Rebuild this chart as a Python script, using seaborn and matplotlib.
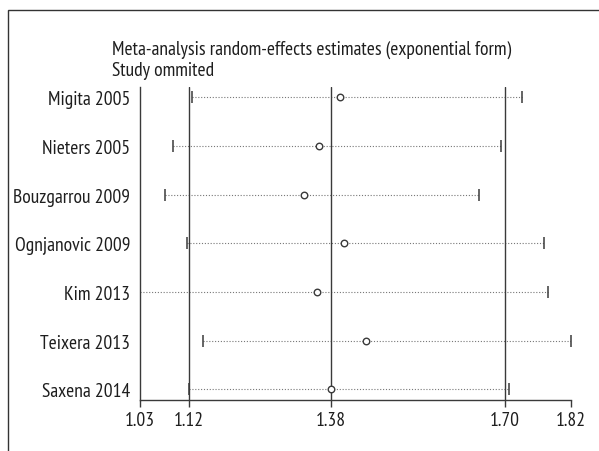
import matplotlib
matplotlib.use("Agg")
import matplotlib.pyplot as plt
import seaborn as sns
import pandas as pd
from matplotlib.patches import Rectangle

# data
studies = ["Migita 2005", "Nieters 2005", "Bouzgarrou 2009", "Ognjanovic 2009",
           "Kim 2013", "Teixera 2013", "Saxena 2014"]
estimate = [1.396, 1.358, 1.331, 1.405, 1.355, 1.444, 1.381]
lower = [1.125, 1.091, 1.075, 1.116, 1.030, 1.146, 1.120]
upper = [1.730, 1.692, 1.651, 1.771, 1.779, 1.820, 1.706]
ref_lines = [1.12, 1.38, 1.70]
xticks = [1.03, 1.12, 1.38, 1.70, 1.82]
xtick_labels = ["1.03", "1.12", "1.38", "1.70", "1.82"]

df = pd.DataFrame({"study": studies, "est": estimate, "lo": lower, "hi": upper})
df["row"] = range(len(df))

sns.set_style("white")
plt.rcParams["font.family"] = ["PT Sans Narrow", "Open Sans Condensed", "DejaVu Sans"]

txt = "#1e1e1e"
line_c = "#3a3a3a"
fs = 14

fig = plt.figure(figsize=(5.99, 4.52), dpi=100)
ax = fig.add_axes([140 / 599, 1 - 401 / 452, (570.7 - 140) / 599, (401 - 88) / 452])

# confidence intervals (dotted) with end caps
ax.hlines(df["row"], df["lo"], df["hi"], colors="#777777", linewidth=0.8,
          linestyles=(0, (1, 1.6)), zorder=1)
ax.plot(df["lo"], df["row"], ls="none", marker="|", ms=8, mew=1.1, color=line_c, zorder=2)
ax.plot(df["hi"], df["row"], ls="none", marker="|", ms=8, mew=1.1, color=line_c, zorder=2)

# overall estimate and its CI
for v in ref_lines:
    ax.axvline(v, color=line_c, linewidth=1.0, zorder=1)

sns.scatterplot(data=df, x="est", y="row", ax=ax, marker="o", s=22,
                facecolor="white", edgecolor=line_c, linewidth=1.0, zorder=3)

ax.set_xlim(1.03, 1.82)
ax.set_ylim(len(df) - 1 + 0.22, -0.21)
ax.set_yticks(df["row"])
ax.set_yticklabels(df["study"], fontsize=fs, color=txt)
ax.set_xticks(xticks)
ax.set_xticklabels(xtick_labels, fontsize=fs, color=txt)
ax.tick_params(axis="y", length=0, pad=7)
ax.tick_params(axis="x", length=5, width=1.0, color=line_c, pad=3, direction="out", bottom=True)
ax.set_xlabel("")
ax.set_ylabel("")

for s in ["top", "right"]:
    ax.spines[s].set_visible(False)
for s in ["left", "bottom"]:
    ax.spines[s].set_color(line_c)
    ax.spines[s].set_linewidth(1.0)

fig.text(112 / 599, 1 - 50 / 452, "Meta-analysis random-effects estimates (exponential form)",
         fontsize=fs, color=txt, va="center", ha="left")
fig.text(112 / 599, 1 - 71 / 452, "Study ommited",
         fontsize=fs, color=txt, va="center", ha="left")

# outer frame (cropped on the right and bottom)
fig.patches.append(Rectangle((8 / 599, -0.1), 1.2, 1 - 11 / 452 + 0.1, transform=fig.transFigure,
                             fill=False, edgecolor="#333333", linewidth=1.0))

fig.savefig("out.png", dpi=100)
